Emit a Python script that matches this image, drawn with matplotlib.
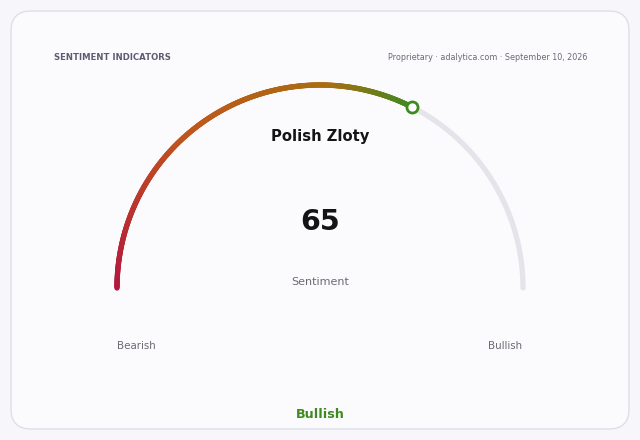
import numpy as np
import matplotlib
matplotlib.use("Agg")
from matplotlib import pyplot as plt
from matplotlib.collections import LineCollection
from matplotlib.colors import LinearSegmentedColormap
from matplotlib.patches import FancyBboxPatch

# data
instrument = "Polish Zloty"
value = 65
vmin, vmax = 0, 100
metric_label = "Sentiment"
low_label = "Bearish"
high_label = "Bullish"
verdict = "Bullish"
header = "SENTIMENT INDICATORS"
source = "Proprietary \u00b7 adalytica.com \u00b7 September 10, 2026"

grad_stops = [0.0, 0.42, 0.8, 1.0]
grad_colors = ["#b3163f", "#c0561c", "#a86e10", "#3f8a1f"]

fig = plt.figure(figsize=(6.4, 4.4), dpi=100)
fig.patch.set_facecolor("#f7f7fb")
ax = fig.add_axes([0, 0, 1, 1])
ax.set_xlim(0, 640)
ax.set_ylim(440, 0)
ax.axis("off")

card = FancyBboxPatch((11, 11), 618, 418, boxstyle="round,pad=0,rounding_size=20",
                      facecolor="#fbfbfe", edgecolor="#dedee8", linewidth=1.0)
ax.add_patch(card)

cx, cy, r = 320, 288, 203

def angle_of(v):
    return np.pi * (1 - (v - vmin) / (vmax - vmin))

# background track
t = np.linspace(angle_of(vmin), angle_of(vmax), 300)
ax.plot(cx + r * np.cos(t), cy - r * np.sin(t), color="#e4e4ea", lw=3.8,
        solid_capstyle="round", zorder=2)

# coloured part up to value
t = np.linspace(angle_of(vmin), angle_of(value), 400)
xs, ys = cx + r * np.cos(t), cy - r * np.sin(t)
pts = np.array([xs, ys]).T.reshape(-1, 1, 2)
segs = np.concatenate([pts[:-1], pts[1:]], axis=1)
cmap = LinearSegmentedColormap.from_list("sent", list(zip(grad_stops, grad_colors)))
lc = LineCollection(segs, colors=cmap(np.linspace(0, 1, len(segs))), linewidths=3.8,
                    capstyle="round", zorder=3)
ax.add_collection(lc)

a = angle_of(value)
ax.plot(cx + r * np.cos(a), cy - r * np.sin(a), "o", ms=8, mfc="white",
        mec=grad_colors[-1], mew=2, zorder=4)

ax.text(54, 58, header, fontsize=6.1, fontweight="bold", color="#5c5c70",
        ha="left", va="center")
ax.text(587, 58, source, fontsize=5.8, color="#6a6a7a", ha="right", va="center")

ax.text(cx, 137, instrument, fontsize=10.6, fontweight="bold", color="#141414",
        ha="center", va="center")
ax.text(cx, 222, str(value), fontsize=20.5, fontweight="bold", color="#141414",
        ha="center", va="center")
ax.text(cx, 282, metric_label, fontsize=8.0, color="#6a6a74", ha="center", va="center")
ax.text(117, 346, low_label, fontsize=7.4, color="#6a6a74", ha="left", va="center")
ax.text(522, 346, high_label, fontsize=7.4, color="#6a6a74", ha="right", va="center")
ax.text(cx, 414, verdict, fontsize=9.2, fontweight="bold", color="#3f8a1f",
        ha="center", va="center")

fig.savefig("out.png", dpi=100, facecolor=fig.get_facecolor())
